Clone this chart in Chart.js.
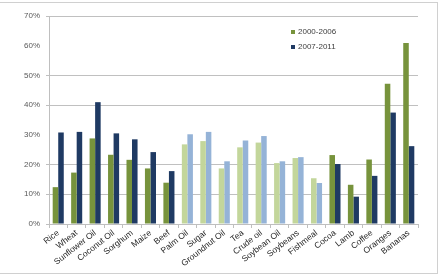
<!DOCTYPE html>
<html>
<head>
<meta charset="utf-8">
<script src="https://cdn.jsdelivr.net/npm/chart.js@4"></script>
<style>
  html, body { margin: 0; padding: 0; background: #fff; }
  #wrap { position: relative; width: 443px; height: 278px; overflow: hidden; }
  #frame { position: absolute; left: -2px; top: 2px; width: 440px; height: 272px; border: 1px solid #d0d0d0; box-sizing: border-box; pointer-events: none; }
  canvas { position: absolute; left: 0; top: 0; }
</style>
</head>
<body>
<div id="wrap">
  <canvas id="c" width="443" height="278"></canvas>
  <div id="frame"></div>
</div>
<script>
const categories = ["Rice", "Wheat", "Sunflower Oil", "Coconut Oil", "Sorghum", "Maize", "Beef", "Palm Oil", "Sugar", "Groundnut Oil", "Tea", "Crude oil", "Soybean Oil", "Soybeans", "Fishmeal", "Cocoa", "Lamb", "Coffee", "Oranges", "Bananas"];
const series2000_2006 = [12.4, 17.3, 28.8, 23.3, 21.6, 18.7, 13.9, 26.8, 27.9, 18.7, 25.8, 27.4, 20.5, 22.2, 15.4, 23.2, 13.2, 21.7, 47.2, 60.9];
const series2007_2011 = [30.8, 31.0, 41.0, 30.5, 28.5, 24.2, 17.8, 30.2, 31.0, 21.1, 28.1, 29.6, 21.1, 22.5, 13.8, 20.2, 9.2, 16.2, 37.5, 26.2];
const seriesLabels = ["2000-2006", "2007-2011"];
const yTicks = [0, 10, 20, 30, 40, 50, 60, 70];
// group flag: 0 = dark colours, 1 = light colours
const colourGroup = [0, 0, 0, 0, 0, 0, 0, 1, 1, 1, 1, 1, 1, 1, 1, 0, 0, 0, 0, 0];

const greenDark = "#77933C", greenLight = "#C3D69B";
const blueDark = "#1F3A63", blueLight = "#95B3D7";

const legendPlugin = {
  id: 'insideLegend',
  afterDraw(chart) {
    const ctx = chart.ctx;
    ctx.save();
    ctx.font = '8px "Liberation Sans", Arial, sans-serif';
    ctx.textBaseline = 'middle';
    ctx.textAlign = 'left';
    const cols = [greenDark, blueDark];
    chart.data.datasets.forEach((ds, i) => {
      const y = 32 + i * 15;
      ctx.fillStyle = cols[i];
      ctx.fillRect(291, y - 2, 4, 4);
      ctx.fillStyle = '#404040';
      ctx.fillText(ds.label, 298, y);
    });
    ctx.restore();
  }
};

new Chart(document.getElementById('c'), {
  type: 'bar',
  data: {
    labels: categories,
    datasets: [
      { label: seriesLabels[0], data: series2000_2006,
        backgroundColor: colourGroup.map(g => g ? greenLight : greenDark) },
      { label: seriesLabels[1], data: series2007_2011,
        backgroundColor: colourGroup.map(g => g ? blueLight : blueDark) }
    ]
  },
  options: {
    responsive: false,
    animation: false,
    devicePixelRatio: 1,
    categoryPercentage: 0.6,
    barPercentage: 1,
    layout: { padding: { top: 16, right: 25, left: 0, bottom: 0 } },
    plugins: { legend: { display: false }, tooltip: { enabled: false } },
    scales: {
      x: {
        grid: { drawOnChartArea: false, drawTicks: true, tickLength: 4, color: '#bfbfbf' },
        border: { color: '#bfbfbf' },
        ticks: { minRotation: 38, maxRotation: 38, autoSkip: false, padding: 0,
          color: '#262626', font: { family: '"Liberation Sans", Arial, sans-serif', size: 8.5 } },
        afterFit(s) { s.height = 54; }
      },
      y: {
        min: 0, max: 70,
        afterBuildTicks(s) { s.ticks = yTicks.map(v => ({ value: v })); },
        grid: { tickLength: 3,
          color: c => (c.tick && (c.tick.value === 30 || c.tick.value === 60)) ? 'rgba(0,0,0,0)' : '#c0c0c0' },
        border: { color: '#bfbfbf' },
        ticks: { padding: 6, color: '#595959', callback: v => v + '%',
          font: { family: '"Liberation Sans", Arial, sans-serif', size: 8 } },
        afterFit(s) { s.width = 49; }
      }
    }
  },
  plugins: [legendPlugin]
});
</script>
</body>
</html>
